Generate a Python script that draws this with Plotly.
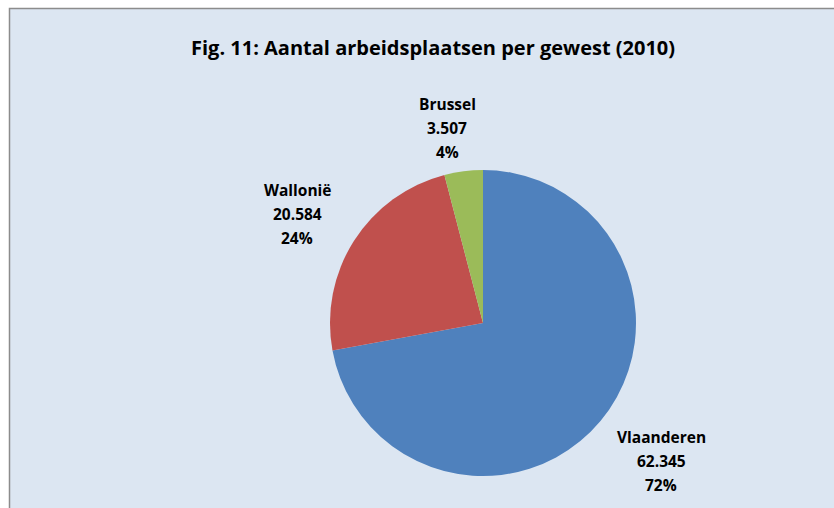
import plotly.graph_objects as go

labels = ["Vlaanderen", "Wallonië", "Brussel"]
values = [62345, 20584, 3507]
colors = ["#4F81BD", "#C0504D", "#9BBB59"]
title = "Fig. 11: Aantal arbeidsplaatsen per gewest (2010)"

W, H = 834, 508
total = sum(values)

def fmt(v):
    return f"{v:,}".replace(",", ".")

fig = go.Figure(go.Pie(
    labels=labels, values=values, sort=False, direction="clockwise", rotation=0,
    marker=dict(colors=colors, line=dict(width=0)),
    textinfo="none", hoverinfo="label+value+percent", showlegend=False,
    domain=dict(x=[(483 - 153) / W, (483 + 153) / W],
                y=[1 - 476 / H, 1 - 170 / H]),
))

# label centres (pixels, middle line)
label_pos = [(661, 461), (297, 214), (447, 128)]
line_gap = 24
font = dict(family="'Open Sans', sans-serif", size=15.5, color="#000000")
for lab, v, (px, py) in zip(labels, values, label_pos):
    pct = round(v / total * 100)
    for i, line in enumerate([lab, fmt(v), f"{pct}%"]):
        fig.add_annotation(
            x=px / W, y=1 - (py + (i - 1) * line_gap) / H, xref="paper", yref="paper",
            text=f"<b>{line}</b>", showarrow=False,
            font=font, align="center", xanchor="center", yanchor="middle",
        )

fig.add_shape(type="rect", xref="paper", yref="paper",
              x0=9.5 / W, x1=1.02, y0=-0.02, y1=1 - 8.5 / H,
              fillcolor="#DCE6F2", line=dict(color="#8C8C8C", width=1.5), layer="below")

fig.add_annotation(x=433 / W, y=1 - 47 / H, xref="paper", yref="paper",
                   text=f"<b>{title}</b>", showarrow=False,
                   font=dict(family="'Open Sans', sans-serif", size=20, color="#000000"),
                   xanchor="center", yanchor="middle")

fig.update_layout(width=W, height=H, margin=dict(l=0, r=0, t=0, b=0),
                  paper_bgcolor="#FFFFFF", plot_bgcolor="#FFFFFF")
fig.write_html("out.html", config={"displayModeBar": False},
               post_script="document.body.style.margin='0';document.body.style.overflow='hidden';")
